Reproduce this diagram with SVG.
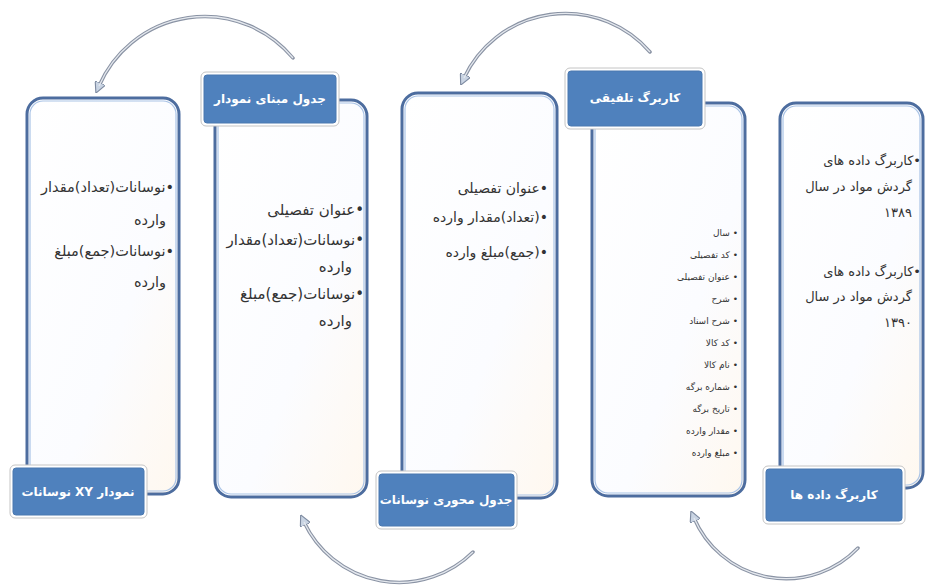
<svg xmlns="http://www.w3.org/2000/svg" width="933" height="585" viewBox="0 0 933 585">
<defs>
<linearGradient id="cardFill" x1="0" y1="0" x2="1" y2="1">
<stop offset="0" stop-color="#ffffff"/>
<stop offset="0.6" stop-color="#fbfcff"/>
<stop offset="1" stop-color="#fff8ef"/>
</linearGradient>
<marker id="arr" viewBox="0 0 10 10" refX="3" refY="5" markerWidth="3.2" markerHeight="3.2" orient="auto-start-reverse" markerUnits="strokeWidth">
<path d="M0,0 L10,5 L0,10 Z" fill="#c9d4e3" stroke="#7d8aa0" stroke-width="1"/>
</marker>
<style>
.card{fill:url(#cardFill);stroke:#4d6d9f;stroke-width:3}
.cardIn{fill:none;stroke:#a9c3e6;stroke-width:1.2}
.lblOut{fill:#ffffff;stroke:#c4c4c4;stroke-width:1}
.lbl{fill:#4f81bd;stroke:#4a78b0;stroke-width:1}
.lt{font-family:"DejaVu Sans","Noto Sans",sans-serif;font-weight:bold;font-size:12px;fill:#ffffff;text-anchor:middle;direction:rtl}
.bt{font-family:"DejaVu Sans","Noto Sans",sans-serif;fill:#333333;direction:rtl;text-anchor:start}
.arc{fill:none;stroke:#8a93a4;stroke-width:3.5;stroke-linecap:round}
.arcIn{fill:none;stroke:#e4e8ee;stroke-width:1.3}
</style>
</defs>
<rect width="933" height="585" fill="#ffffff"/>

<g id="connectors">
<path class="arc" d="M858,548 A100 100 0 0 1 694,518" marker-end="url(#arr)"/>
<path class="arcIn" d="M858,548 A100 100 0 0 1 694,518"/>
<path class="arc" d="M650,52 A112 112 0 0 0 464,78" marker-end="url(#arr)"/>
<path class="arcIn" d="M650,52 A112 112 0 0 0 464,78"/>
<path class="arc" d="M473,552 A105 105 0 0 1 304,522" marker-end="url(#arr)"/>
<path class="arcIn" d="M473,552 A105 105 0 0 1 304,522"/>
<path class="arc" d="M293,58 A115 115 0 0 0 99,86" marker-end="url(#arr)"/>
<path class="arcIn" d="M293,58 A115 115 0 0 0 99,86"/>
</g>

<g id="node-datasheet">
<rect class="card" x="780" y="103" width="143" height="385" rx="16"/>
<rect class="cardIn" x="783" y="106" width="137" height="379" rx="13"/>
<text class="bt" font-size="13" x="921" y="165">•کاربرگ داده های</text>
<text class="bt" font-size="13" x="912" y="191">گردش مواد در سال</text>
<text class="bt" font-size="13" x="912" y="217">۱۳۸۹</text>
<text class="bt" font-size="13" x="921" y="276">•کاربرگ داده های</text>
<text class="bt" font-size="13" x="912" y="301">گردش مواد در سال</text>
<text class="bt" font-size="13" x="912" y="327">۱۳۹۰</text>
<rect class="lblOut" x="763" y="466" width="142" height="58" rx="5"/>
<rect class="lbl" x="766" y="469" width="136" height="52" rx="3"/>
<text class="lt" x="834" y="499">کاربرگ داده ها</text>
</g>

<g id="node-consolidated">
<rect class="card" x="592" y="103" width="153" height="393" rx="16"/>
<rect class="cardIn" x="595" y="106" width="147" height="387" rx="13"/>
<g class="bt" font-size="9" fill="#555555">
<text x="738" y="236">• سال</text>
<text x="738" y="258">• کد تفصیلی</text>
<text x="738" y="280">• عنوان تفصیلی</text>
<text x="738" y="302">• شرح</text>
<text x="738" y="324">• شرح اسناد</text>
<text x="738" y="346">• کد کالا</text>
<text x="738" y="368">• نام کالا</text>
<text x="738" y="390">• شماره برگه</text>
<text x="738" y="412">• تاریخ برگه</text>
<text x="738" y="434">• مقدار وارده</text>
<text x="738" y="456">• مبلغ وارده</text>
</g>
<rect class="lblOut" x="565" y="68" width="140" height="61" rx="5"/>
<rect class="lbl" x="568" y="71" width="134" height="55" rx="3"/>
<text class="lt" x="635" y="102">کاربرگ تلفیقی</text>
</g>

<g id="node-pivot">
<rect class="card" x="402" y="93" width="155" height="405" rx="16"/>
<rect class="cardIn" x="405" y="96" width="149" height="399" rx="13"/>
<text class="bt" font-size="14" x="548" y="193">•عنوان تفصیلی</text>
<text class="bt" font-size="14" x="548" y="222">•(تعداد)مقدار وارده</text>
<text class="bt" font-size="14" x="548" y="257">•(جمع)مبلغ وارده</text>
<rect class="lblOut" x="376" y="471" width="141" height="58" rx="5"/>
<rect class="lbl" x="379" y="474" width="135" height="52" rx="3"/>
<text class="lt" x="446" y="504">جدول محوری نوسانات</text>
</g>

<g id="node-chartbase">
<rect class="card" x="215" y="100" width="152" height="397" rx="16"/>
<rect class="cardIn" x="218" y="103" width="146" height="391" rx="13"/>
<text class="bt" font-size="15" x="364" y="215">•عنوان تفصیلی</text>
<text class="bt" font-size="15" x="364" y="245">•نوسانات(تعداد)مقدار</text>
<text class="bt" font-size="15" x="352" y="272">وارده</text>
<text class="bt" font-size="15" x="364" y="299">•نوسانات(جمع)مبلغ</text>
<text class="bt" font-size="15" x="352" y="326">وارده</text>
<rect class="lblOut" x="201" y="72" width="138" height="54" rx="5"/>
<rect class="lbl" x="204" y="75" width="132" height="48" rx="3"/>
<text class="lt" x="270" y="103">جدول مبنای نمودار</text>
</g>

<g id="node-xychart">
<rect class="card" x="27" y="98" width="152" height="396" rx="16"/>
<rect class="cardIn" x="30" y="101" width="146" height="390" rx="13"/>
<text class="bt" font-size="14.5" x="174" y="192">•نوسانات(تعداد)مقدار</text>
<text class="bt" font-size="14.5" x="166" y="225">وارده</text>
<text class="bt" font-size="14.5" x="174" y="256">•نوسانات(جمع)مبلغ</text>
<text class="bt" font-size="14.5" x="166" y="287">وارده</text>
<rect class="lblOut" x="10" y="465" width="137" height="53" rx="5"/>
<rect class="lbl" x="13" y="468" width="131" height="47" rx="3"/>
<text class="lt" x="78" y="496">نمودار XY نوسانات</text>
</g>
</svg>
